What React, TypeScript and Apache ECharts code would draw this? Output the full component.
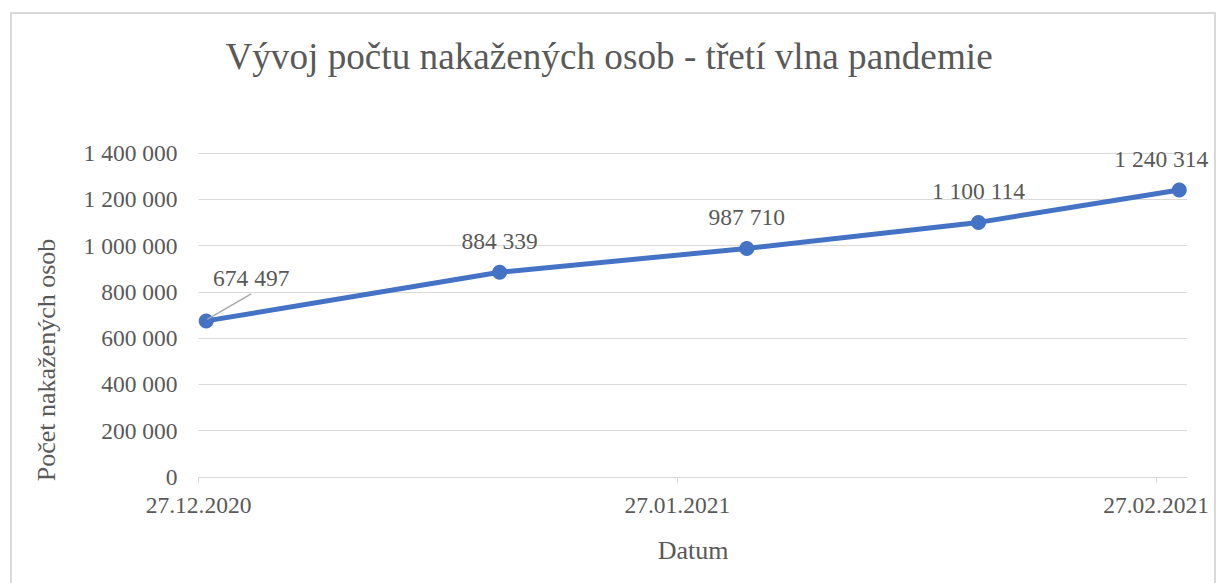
import React, { useEffect, useRef } from "react";
import * as echarts from "echarts";

const chartTitle = "Vývoj počtu nakažených osob - třetí vlna pandemie";
const xAxisTitle = "Datum";
const yAxisTitle = "Počet nakažených osob";

const dates = ["2020-12-27", "2021-01-15", "2021-01-31", "2021-02-15", "2021-02-28"];
const infected = [674497, 884339, 987710, 1100114, 1240314];

const axisStartDate = "2020-12-27";
const axisEndDate = "2021-03-01";
const xTickDates = ["2020-12-27", "2021-01-27", "2021-02-27"];

const yMin = 0;
const yMax = 1400000;
const yInterval = 200000;

const DAY = 86400000;
const dayIndex = (d: string) => Math.round((Date.parse(d) - Date.parse(axisStartDate)) / DAY);
const fmtNum = (n: number) => String(Math.round(n)).replace(/\B(?=(\d{3})+(?!\d))/g, " ");
const fmtDate = (idx: number) => {
  const dt = new Date(Date.parse(axisStartDate) + Math.round(idx) * DAY);
  const dd = String(dt.getUTCDate()).padStart(2, "0");
  const mm = String(dt.getUTCMonth() + 1).padStart(2, "0");
  return `${dd}.${mm}.${dt.getUTCFullYear()}`;
};

const FONT = "Liberation Serif";
const TEXT = "#595959";
const GRID = "#d9d9d9";
const BLUE = "#4472C4";

export default function App() {
  const ref = useRef<HTMLDivElement>(null);
  useEffect(() => {
    if (!ref.current) return;
    const chart = echarts.init(ref.current, null, { renderer: "svg" });
    const seriesData = dates.map((d, i) => [dayIndex(d) + 0.5, infected[i]]);
    const lastIdx = dates.length - 1;
    const staticGraphics: any[] = [
      {
        type: "rect",
        shape: { x: 11, y: 13, width: 1204, height: 620 },
        style: { fill: "none", stroke: GRID, lineWidth: 2 },
        silent: true,
      },
      {
        type: "text",
        x: 46,
        y: 360,
        rotation: Math.PI / 2,
        style: {
          text: yAxisTitle,
          fontFamily: FONT,
          fontSize: 26,
          fill: TEXT,
          textAlign: "center",
          textVerticalAlign: "middle",
        },
      },
      {
        type: "text",
        x: 693,
        y: 550,
        style: {
          text: xAxisTitle,
          fontFamily: FONT,
          fontSize: 26,
          fill: TEXT,
          textAlign: "center",
          textVerticalAlign: "middle",
        },
      },
    ];
    chart.setOption({
      animation: false,
      backgroundColor: "#ffffff",
      title: {
        text: chartTitle,
        left: "center",
        top: 33,
        padding: [5, 5, 5, 15],
        textStyle: { fontFamily: FONT, fontSize: 37.2, fontWeight: "normal", color: TEXT },
      },
      grid: { left: 198.5, right: 31, top: 153, bottom: 106, containLabel: false },
      xAxis: {
        type: "value",
        min: 0,
        max: dayIndex(axisEndDate),
        axisLine: { show: true, lineStyle: { color: GRID, width: 1 } },
        axisTick: {
          show: true,
          length: 6,
          lineStyle: { color: GRID },
          customValues: xTickDates.map(dayIndex),
        },
        splitLine: { show: false },
        axisLabel: {
          customValues: xTickDates.map(dayIndex),
          formatter: (v: number) => fmtDate(v),
          fontFamily: FONT,
          fontSize: 23.5,
          color: TEXT,
          margin: 16,
        },
      },
      yAxis: {
        type: "value",
        min: yMin,
        max: yMax,
        interval: yInterval,
        axisLine: { show: false },
        axisTick: { show: false },
        splitLine: { show: true, lineStyle: { color: GRID, width: 1 } },
        axisLabel: {
          formatter: (v: number) => fmtNum(v),
          fontFamily: FONT,
          fontSize: 23.5,
          color: TEXT,
          margin: 21,
        },
      },
      graphic: staticGraphics,
      series: [
        {
          type: "line",
          data: seriesData,
          symbol: "circle",
          symbolSize: 15,
          lineStyle: { color: BLUE, width: 5 },
          itemStyle: { color: BLUE },
          z: 3,
          label: {
            show: true,
            position: "top",
            distance: 11.5,
            formatter: (p: any) => fmtNum(p.value[1]),
            fontFamily: FONT,
            fontSize: 23.5,
            color: TEXT,
          },
          labelLayout: (p: any) => {
            if (p.dataIndex === 0) return { dx: 45, dy: -12 };
            if (p.dataIndex === lastIdx) return { dx: -18 };
            return {};
          },
        },
      ],
    });
    // leader line for the first (moved) data label, anchored via the chart's own scales
    const p0 = chart.convertToPixel({ gridIndex: 0 }, seriesData[0]) as number[];
    chart.setOption({
      graphic: [
        ...staticGraphics,
        {
          type: "line",
          shape: { x1: p0[0] + 1, y1: p0[1] - 1.5, x2: p0[0] + 45, y2: p0[1] - 27 },
          style: { stroke: "#a6a6a6", lineWidth: 1.3 },
          z: 10,
          silent: true,
        },
      ],
    });
    return () => chart.dispose();
  }, []);
  return (
    <div
      ref={ref}
      style={{ position: "absolute", left: 0, top: 0, width: 1218, height: 583 }}
    />
  );
}
